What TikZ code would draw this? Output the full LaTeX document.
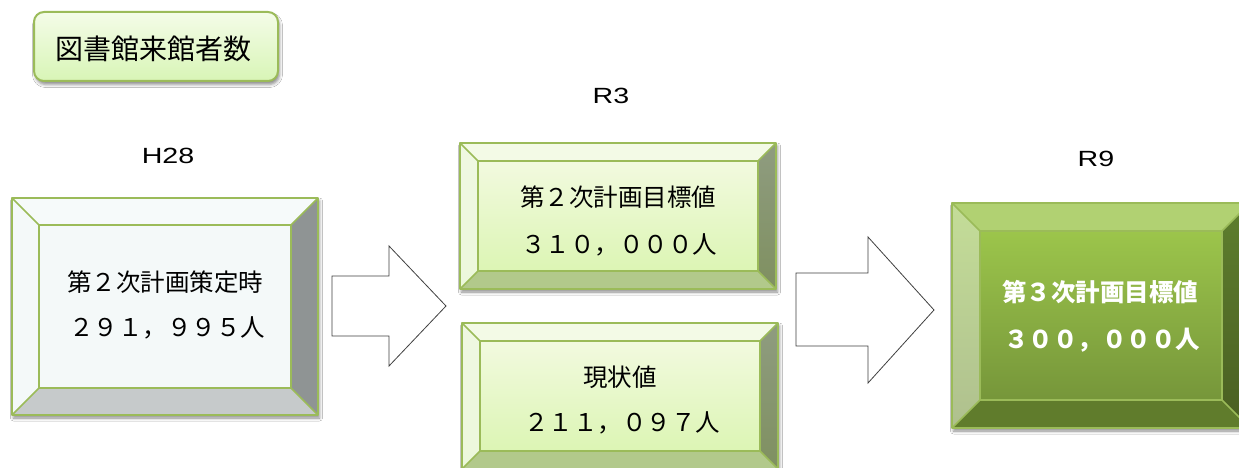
\documentclass[tikz,border=0pt]{standalone}
\usepackage{fontspec}
\setmainfont{Liberation Sans}
\newfontfamily\jp{Noto Sans CJK JP}
\usetikzlibrary{shadows.blur}
\definecolor{bord}{HTML}{9BBB59}
\definecolor{arrowline}{HTML}{404040}
\definecolor{hface}{HTML}{F4F9F9}
\definecolor{hright}{HTML}{8F9494}
\definecolor{hbot}{HTML}{C6CACB}
\definecolor{rfacet}{HTML}{F2FADF}
\definecolor{rfaceb}{HTML}{DCF5B4}
\definecolor{rtop}{HTML}{F3FAE6}
\definecolor{rleft}{HTML}{EFF8E2}
\definecolor{rrightt}{HTML}{8F9C80}
\definecolor{rrightb}{HTML}{7F9060}
\definecolor{rbot}{HTML}{B2C98B}
\definecolor{nfacet}{HTML}{9CC54B}
\definecolor{nfaceb}{HTML}{76963A}
\definecolor{ntop}{HTML}{B1D172}
\definecolor{nleftt}{HTML}{C4DD98}
\definecolor{nleftb}{HTML}{AFC08E}
\definecolor{nrightt}{HTML}{5E7E2E}
\definecolor{nrightb}{HTML}{4A5F22}
\definecolor{nbot}{HTML}{607C2C}
\definecolor{tboxt}{HTML}{F4FCE8}
\definecolor{tboxb}{HTML}{D8F5B6}
\tikzset{
  boxshadow/.style={blur shadow={shadow xshift=1.5pt,shadow yshift=-3pt,shadow blur radius=3pt,shadow opacity=45}},
  bevline/.style={draw=bord,line width=1.5pt,line join=round},
  ha-face/.style={fill=hface},
  ha-top/.style={fill=hface!80!white},
  ha-left/.style={fill=hface},
  ha-right/.style={fill=hright},
  ha-bot/.style={fill=hbot},
  rb-face/.style={top color=rfacet,bottom color=rfaceb},
  rb-top/.style={fill=rtop},
  rb-left/.style={top color=rleft,bottom color=rleft!85!rfaceb},
  rb-right/.style={top color=rrightt,bottom color=rrightb},
  rb-bot/.style={fill=rbot},
  rn-face/.style={top color=nfacet,bottom color=nfaceb},
  rn-top/.style={fill=ntop},
  rn-left/.style={top color=nleftt,bottom color=nleftb},
  rn-right/.style={top color=nrightt,bottom color=nrightb},
  rn-bot/.style={fill=nbot},
  blockarrow/.style={draw=arrowline,line width=0.8pt,fill=white,line join=miter},
  boxtext/.style={font=\jp\fontsize{24.5}{27}\selectfont,inner sep=0pt,anchor=center},
  whitetext/.style={boxtext,text=white,font=\jp\bfseries\fontsize{24.5}{27}\selectfont},
  label/.style={font=\fontsize{22}{24}\selectfont,inner sep=0pt,anchor=center},
}
% x1 y1 x2 y2 bevel prefix
\newcommand\bevelbox[6]{%
  \path[boxshadow,fill=white] (#1,#2) rectangle (#3,#4);
  \path[#6-face] (#1+#5,#2+#5) rectangle (#3-#5,#4-#5);
  \path[#6-top] (#1,#2) -- (#3,#2) -- (#3-#5,#2+#5) -- (#1+#5,#2+#5) -- cycle;
  \path[#6-left] (#1,#2) -- (#1+#5,#2+#5) -- (#1+#5,#4-#5) -- (#1,#4) -- cycle;
  \path[#6-right] (#3,#2) -- (#3,#4) -- (#3-#5,#4-#5) -- (#3-#5,#2+#5) -- cycle;
  \path[#6-bot] (#1,#4) -- (#3,#4) -- (#3-#5,#4-#5) -- (#1+#5,#4-#5) -- cycle;
  \draw[bevline] (#1+#5,#2+#5) rectangle (#3-#5,#4-#5);
  \draw[bevline] (#1,#2) -- (#1+#5,#2+#5) (#3,#2) -- (#3-#5,#2+#5)
                 (#1,#4) -- (#1+#5,#4-#5) (#3,#4) -- (#3-#5,#4-#5);
  \draw[bevline,line width=2pt] (#1,#2) rectangle (#3,#4);
}
\begin{document}
\begin{tikzpicture}[x=1pt,y=-1pt]
\clip (0,0) rectangle (1239,468);
\fill[white] (0,0) rectangle (1239,468);

% title
\node[draw=bord,line width=2pt,rounded corners=10pt,top color=tboxt,bottom color=tboxb,
      blur shadow={shadow xshift=1.5pt,shadow yshift=-3.5pt,shadow blur radius=3pt,shadow opacity=45},
      minimum width=244pt,minimum height=69pt,inner sep=0pt] (titlebox) at (156,46.5) {};
\node[font=\jp\fontsize{28}{30}\selectfont,inner sep=0pt] (title) at (153,49) {図書館来館者数};

% period labels
\node[label] (h28) at (168,156) {\scalebox{1.3}[1]{H28}};
\node[label] (r3) at (611,96) {\scalebox{1.3}[1]{R3}};
\node[label] (r9) at (1096,159) {\scalebox{1.3}[1]{R9}};

% boxes
\bevelbox{12}{198}{318}{415}{27}{ha}
\bevelbox{460}{143}{776}{289}{18}{rb}
\bevelbox{462}{323}{778}{469}{18}{rb}
\bevelbox{952}{203}{1250}{428}{28}{rn}

% texts
\node[boxtext] (h28a) at (165,282) {第２次計画策定時};
\node[boxtext] (h28b) at (167,328) {２９１，９９５人};
\node[boxtext] (r3a) at (618,197) {第２次計画目標値};
\node[boxtext] (r3b) at (619,245) {３１０，０００人};
\node[boxtext] (r3c) at (620,377) {現状値};
\node[boxtext] (r3d) at (622,423) {２１１，０９７人};
\node[whitetext] (r9a) at (1100,292) {第３次計画目標値};
\node[whitetext] (r9b) at (1102,340) {３００，０００人};

% block arrows
\draw[blockarrow] (332,276) -- (389,276) -- (389,246) -- (446,306) -- (389,366) -- (389,336) -- (332,336) -- cycle;
\draw[blockarrow] (796,273) -- (868,273) -- (868,237) -- (934,310) -- (868,383) -- (868,346) -- (796,346) -- cycle;
\end{tikzpicture}
\end{document}
